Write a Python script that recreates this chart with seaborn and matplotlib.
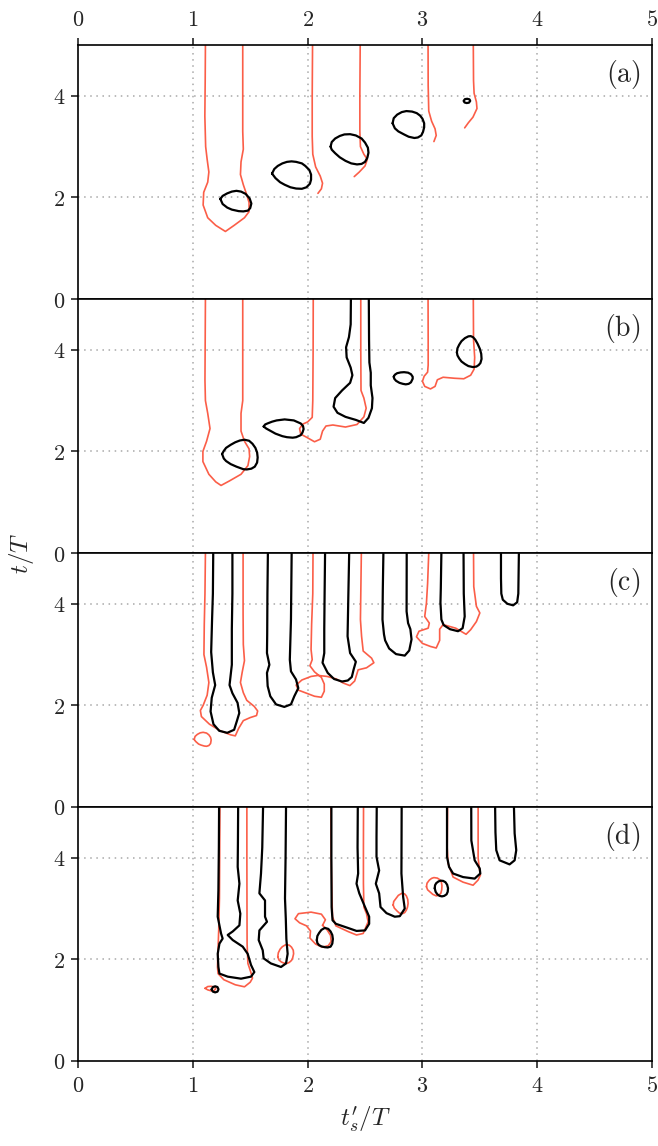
import matplotlib
matplotlib.use('Agg')
import matplotlib.pyplot as plt
from matplotlib.ticker import FuncFormatter
import seaborn as sns

# contour lines, (t'_s/T, t/T) pairs
RED = '#fb5e48'
BLACK = '#000000'

# ---- panel (a)
a_red1 = [(1.110, 5.0), (1.108, 4.3), (1.105, 3.6), (1.112, 3.0), (1.125, 2.75), (1.14, 2.5), (1.13, 2.3),
          (1.095, 2.1), (1.09, 1.85), (1.13, 1.6), (1.20, 1.45), (1.284, 1.33), (1.36, 1.45), (1.45, 1.6),
          (1.49, 1.72), (1.49, 1.9), (1.47, 2.05), (1.44, 2.25), (1.415, 2.45), (1.42, 2.7), (1.44, 2.95),
          (1.435, 3.3), (1.435, 4.0), (1.435, 5.0)]
a_red2 = [(2.043, 5.0), (2.04, 4.0), (2.04, 3.2), (2.045, 2.85), (2.07, 2.6), (2.11, 2.42), (2.13, 2.28),
          (2.12, 2.17), (2.09, 2.08)]
a_red3 = [(2.458, 5.0), (2.455, 4.0), (2.455, 3.3), (2.46, 3.0), (2.49, 2.85), (2.52, 2.75), (2.50, 2.62),
          (2.45, 2.5), (2.406, 2.41)]
a_red4 = [(3.049, 5.0), (3.05, 4.2), (3.055, 3.7), (3.08, 3.5), (3.11, 3.35), (3.12, 3.22), (3.10, 3.10)]
a_red5 = [(3.443, 5.0), (3.445, 4.3), (3.45, 4.05), (3.47, 3.88), (3.475, 3.75), (3.44, 3.58), (3.40, 3.47),
          (3.368, 3.37)]
a_blk1 = [(1.24, 1.97), (1.26, 2.03), (1.30, 2.08), (1.34, 2.115), (1.38, 2.13), (1.42, 2.115), (1.46, 2.07),
          (1.495, 1.98), (1.51, 1.88), (1.50, 1.79), (1.48, 1.74), (1.44, 1.725), (1.40, 1.73), (1.34, 1.76),
          (1.30, 1.80), (1.26, 1.87), (1.24, 1.97)]
a_blk2 = [(1.69, 2.47), (1.71, 2.56), (1.74, 2.62), (1.78, 2.67), (1.82, 2.70), (1.86, 2.71), (1.90, 2.70),
          (1.95, 2.67), (1.98, 2.62), (2.015, 2.54), (2.03, 2.45), (2.03, 2.35), (2.02, 2.27), (1.99, 2.20),
          (1.95, 2.17), (1.90, 2.175), (1.85, 2.20), (1.80, 2.25), (1.76, 2.30), (1.72, 2.38), (1.69, 2.47)]
a_blk3 = [(2.20, 3.0), (2.21, 3.09), (2.24, 3.16), (2.28, 3.21), (2.32, 3.24), (2.37, 3.245), (2.42, 3.22),
          (2.47, 3.16), (2.50, 3.08), (2.525, 2.98), (2.53, 2.88), (2.52, 2.78), (2.50, 2.70), (2.47, 2.66),
          (2.43, 2.65), (2.38, 2.67), (2.33, 2.72), (2.28, 2.79), (2.24, 2.87), (2.21, 2.94), (2.20, 3.0)]
a_blk4 = [(2.74, 3.46), (2.75, 3.56), (2.78, 3.63), (2.82, 3.68), (2.86, 3.70), (2.91, 3.69), (2.95, 3.66),
          (2.98, 3.61), (3.00, 3.55), (3.015, 3.46), (3.015, 3.38), (3.005, 3.29), (2.99, 3.22),
          (2.96, 3.18), (2.93, 3.17), (2.88, 3.195), (2.84, 3.24), (2.79, 3.30), (2.76, 3.36), (2.74, 3.46)]
a_blk5 = [(3.36, 3.90), (3.37, 3.935), (3.39, 3.942), (3.41, 3.93), (3.416, 3.90), (3.405, 3.865),
          (3.385, 3.858), (3.366, 3.87), (3.36, 3.90)]

# ---- panel (b)
b_red1 = [(1.110, 5.0), (1.108, 4.2), (1.106, 3.4), (1.11, 3.0), (1.13, 2.75), (1.15, 2.45), (1.12, 2.2),
          (1.088, 2.0), (1.088, 1.8), (1.14, 1.55), (1.20, 1.40), (1.246, 1.33), (1.32, 1.42), (1.42, 1.55),
          (1.48, 1.72), (1.495, 1.9), (1.49, 2.05), (1.45, 2.2), (1.42, 2.4), (1.42, 2.75), (1.435, 3.0),
          (1.435, 3.8), (1.435, 5.0)]
b_red2 = [(2.049, 5.0), (2.048, 4.0), (2.045, 3.0), (2.04, 2.67), (2.00, 2.58), (1.96, 2.54), (1.93, 2.45),
          (1.94, 2.34), (1.99, 2.28), (2.06, 2.19), (2.11, 2.24), (2.13, 2.40), (2.16, 2.50), (2.22, 2.52),
          (2.33, 2.48), (2.43, 2.53), (2.49, 2.68), (2.51, 2.85), (2.49, 3.05), (2.465, 3.2), (2.463, 4.0),
          (2.463, 5.0)]
b_red3 = [(3.049, 5.0), (3.05, 4.2), (3.05, 3.7), (3.045, 3.56), (3.015, 3.48), (3.0, 3.38), (3.02, 3.28),
          (3.07, 3.23), (3.11, 3.28), (3.13, 3.41), (3.18, 3.46), (3.28, 3.44), (3.36, 3.43), (3.42, 3.50),
          (3.45, 3.62), (3.455, 3.85), (3.445, 4.2), (3.443, 5.0)]
b_blk1 = [(1.255, 1.95), (1.27, 2.01), (1.29, 2.07), (1.33, 2.13), (1.37, 2.18), (1.41, 2.215), (1.45, 2.23),
          (1.49, 2.21), (1.52, 2.15), (1.545, 2.07), (1.56, 1.98), (1.565, 1.88), (1.56, 1.78), (1.54, 1.70),
          (1.51, 1.66), (1.47, 1.645), (1.44, 1.65), (1.38, 1.70), (1.33, 1.75), (1.29, 1.81), (1.27, 1.86),
          (1.255, 1.95)]
b_blk2 = [(1.617, 2.49), (1.63, 2.53), (1.65, 2.55), (1.69, 2.585), (1.73, 2.61), (1.80, 2.63), (1.88, 2.61),
          (1.94, 2.55), (1.96, 2.50), (1.965, 2.44), (1.955, 2.37), (1.94, 2.32), (1.90, 2.28), (1.87, 2.27),
          (1.82, 2.28), (1.78, 2.30), (1.72, 2.35), (1.68, 2.40), (1.64, 2.45), (1.617, 2.49)]
b_blk3 = [(2.377, 5.0), (2.375, 4.5), (2.36, 4.25), (2.335, 4.05), (2.34, 3.85), (2.375, 3.65), (2.39, 3.5),
          (2.37, 3.35), (2.30, 3.2), (2.24, 3.05), (2.226, 2.88), (2.26, 2.76), (2.33, 2.68), (2.42, 2.62),
          (2.49, 2.56), (2.53, 2.66), (2.56, 2.85), (2.565, 3.05), (2.55, 3.3), (2.55, 3.55), (2.538, 3.75),
          (2.535, 4.2), (2.533, 5.0)]
b_blk4 = [(2.75, 3.47), (2.76, 3.51), (2.78, 3.54), (2.81, 3.555), (2.84, 3.56), (2.875, 3.55), (2.90, 3.52),
          (2.915, 3.47), (2.915, 3.43), (2.90, 3.36), (2.88, 3.33), (2.855, 3.32), (2.83, 3.33), (2.80, 3.35),
          (2.77, 3.39), (2.755, 3.43), (2.75, 3.47)]
b_blk5 = [(3.30, 3.95), (3.305, 4.03), (3.32, 4.10), (3.34, 4.17), (3.37, 4.23), (3.40, 4.265), (3.42, 4.27),
          (3.44, 4.25), (3.46, 4.20), (3.48, 4.12), (3.50, 4.02), (3.512, 3.92), (3.515, 3.82),
          (3.505, 3.74), (3.49, 3.70), (3.47, 3.67), (3.44, 3.66), (3.40, 3.68), (3.37, 3.72), (3.34, 3.77),
          (3.32, 3.83), (3.305, 3.89), (3.30, 3.95)]

# ---- panel (c)
c_red1 = [(1.110, 5.0), (1.106, 4.2), (1.10, 3.6), (1.097, 3.0), (1.12, 2.75), (1.14, 2.45), (1.125, 2.2),
          (1.09, 2.0), (1.066, 1.9), (1.075, 1.78), (1.145, 1.63), (1.24, 1.50), (1.33, 1.42), (1.37, 1.40),
          (1.40, 1.55), (1.44, 1.70), (1.50, 1.76), (1.555, 1.80), (1.565, 1.89), (1.535, 1.98), (1.47, 2.10),
          (1.44, 2.25), (1.415, 2.45), (1.43, 2.65), (1.45, 2.88), (1.44, 3.2), (1.438, 3.8), (1.438, 5.0)]
c_red2 = [(1.012, 1.33), (1.02, 1.39), (1.04, 1.43), (1.065, 1.46), (1.09, 1.47), (1.12, 1.455), (1.14, 1.42),
          (1.155, 1.37), (1.16, 1.32), (1.155, 1.25), (1.14, 1.21), (1.12, 1.195), (1.10, 1.20), (1.07, 1.22),
          (1.05, 1.24), (1.025, 1.29), (1.012, 1.33)]
c_red3 = [(2.047, 5.0), (2.045, 4.2), (2.035, 3.6), (2.03, 3.1), (2.04, 2.9), (2.02, 2.78), (2.06, 2.66),
          (2.12, 2.55), (2.145, 2.42), (2.145, 2.28), (2.12, 2.16), (2.06, 2.18), (1.99, 2.24), (1.92, 2.30),
          (1.90, 2.40), (1.95, 2.50), (2.03, 2.57), (2.09, 2.59), (2.17, 2.57), (2.25, 2.52), (2.31, 2.44),
          (2.368, 2.39), (2.41, 2.48), (2.44, 2.70), (2.513, 2.74), (2.577, 2.84), (2.557, 2.93),
          (2.484, 3.07), (2.47, 3.36), (2.46, 3.69), (2.468, 5.0)]
c_red4 = [(3.055, 5.0), (3.045, 4.4), (3.035, 4.02), (3.02, 3.75), (3.06, 3.62), (3.05, 3.52), (2.97, 3.46),
          (2.948, 3.35), (3.0, 3.22), (3.07, 3.16), (3.12, 3.13), (3.15, 3.28), (3.15, 3.50), (3.18, 3.59),
          (3.29, 3.52), (3.38, 3.40), (3.42, 3.49), (3.47, 3.65), (3.50, 3.82), (3.47, 3.95), (3.447, 4.34),
          (3.445, 5.0)]
c_blk1 = [(1.178, 5.0), (1.175, 4.2), (1.168, 3.7), (1.16, 3.05), (1.175, 2.65), (1.195, 2.4), (1.165, 2.15),
          (1.155, 1.88), (1.18, 1.63), (1.23, 1.50), (1.30, 1.46), (1.36, 1.52), (1.385, 1.70), (1.405, 1.85),
          (1.39, 2.05), (1.345, 2.24), (1.32, 2.40), (1.34, 2.8), (1.34, 3.5), (1.345, 4.2), (1.345, 5.0)]
c_blk2 = [(1.654, 5.0), (1.65, 4.2), (1.648, 3.4), (1.646, 3.03), (1.667, 2.8), (1.646, 2.64), (1.652, 2.38),
          (1.675, 2.18), (1.725, 2.02), (1.797, 1.97), (1.855, 2.02), (1.884, 2.18), (1.919, 2.34),
          (1.899, 2.51), (1.855, 2.67), (1.845, 2.9), (1.855, 3.69), (1.861, 5.0)]
c_blk3 = [(2.152, 5.0), (2.148, 4.2), (2.145, 3.5), (2.145, 3.03), (2.13, 2.84), (2.175, 2.64), (2.23, 2.52),
          (2.30, 2.47), (2.35, 2.49), (2.385, 2.56), (2.40, 2.70), (2.42, 2.86), (2.37, 3.03), (2.348, 3.36),
          (2.355, 4.2), (2.362, 5.0)]
c_blk4 = [(2.66, 5.0), (2.655, 4.3), (2.652, 3.69), (2.665, 3.4), (2.675, 3.28), (2.71, 3.12), (2.77, 3.01),
          (2.846, 2.98), (2.885, 3.08), (2.905, 3.3), (2.895, 3.5), (2.875, 3.62), (2.862, 3.85), (2.863, 5.0)]
c_blk5 = [(3.165, 5.0), (3.16, 4.3), (3.157, 4.02), (3.165, 3.69), (3.185, 3.58), (3.24, 3.50), (3.31, 3.46),
          (3.35, 3.52), (3.368, 3.75), (3.36, 4.2), (3.358, 5.0)]
c_blk6 = [(3.684, 5.0), (3.684, 4.5), (3.687, 4.2), (3.70, 4.08), (3.74, 4.0), (3.79, 3.97), (3.825, 4.03),
          (3.835, 4.2), (3.84, 5.0)]

# ---- panel (d)
d_red1 = [(1.236, 5.0), (1.234, 4.0), (1.232, 3.2), (1.226, 2.6), (1.22, 2.2), (1.215, 1.85), (1.22, 1.72),
          (1.27, 1.60), (1.37, 1.50), (1.45, 1.46), (1.50, 1.55), (1.52, 1.63), (1.505, 1.75), (1.48, 1.92),
          (1.473, 2.3), (1.472, 3.0), (1.471, 4.0), (1.471, 5.0)]
d_red2 = [(1.107, 1.43), (1.13, 1.465), (1.16, 1.47), (1.19, 1.455), (1.20, 1.42), (1.185, 1.385),
          (1.16, 1.38), (1.13, 1.40), (1.107, 1.43)]
d_red3 = [(1.74, 2.05), (1.745, 2.13), (1.76, 2.20), (1.78, 2.25), (1.81, 2.29), (1.84, 2.28), (1.86, 2.24),
          (1.875, 2.18), (1.878, 2.11), (1.87, 2.03), (1.86, 1.98), (1.84, 1.94), (1.82, 1.92), (1.79, 1.93),
          (1.77, 1.95), (1.75, 1.99), (1.74, 2.05)]
d_red4 = [(2.13, 2.67), (2.17, 2.58), (2.20, 2.47), (2.205, 2.35), (2.18, 2.27), (2.13, 2.24), (2.07, 2.30),
          (2.02, 2.42), (2.025, 2.56), (1.99, 2.66), (1.93, 2.72), (1.89, 2.80), (1.92, 2.90), (2.03, 2.93),
          (2.12, 2.89), (2.155, 2.78), (2.13, 2.67)]
d_red5 = [(2.203, 5.0), (2.205, 4.0), (2.212, 3.2), (2.217, 2.84), (2.246, 2.66), (2.35, 2.55), (2.426, 2.48),
          (2.484, 2.51), (2.527, 2.74), (2.513, 2.90), (2.49, 3.03), (2.486, 3.5), (2.486, 4.2), (2.487, 5.0)]
d_red6 = [(2.745, 3.07), (2.75, 3.14), (2.77, 3.2), (2.79, 3.26), (2.82, 3.30), (2.845, 3.29), (2.86, 3.25),
          (2.872, 3.18), (2.875, 3.10), (2.87, 3.03), (2.86, 2.97), (2.845, 2.92), (2.826, 2.90),
          (2.80, 2.91), (2.78, 2.95), (2.755, 3.01), (2.745, 3.07)]
d_red7 = [(3.035, 3.43), (3.04, 3.50), (3.06, 3.56), (3.08, 3.595), (3.10, 3.61), (3.13, 3.60), (3.15, 3.57),
          (3.165, 3.52), (3.17, 3.45), (3.168, 3.37), (3.16, 3.30), (3.14, 3.26), (3.12, 3.25), (3.09, 3.28),
          (3.07, 3.32), (3.045, 3.37), (3.035, 3.43)]
d_red8 = [(3.219, 5.0), (3.216, 4.2), (3.223, 3.89), (3.267, 3.62), (3.354, 3.52), (3.441, 3.46),
          (3.484, 3.56), (3.505, 3.66), (3.495, 3.80), (3.485, 4.0), (3.485, 4.4), (3.485, 5.0)]
d_blk1 = [(1.229, 5.0), (1.227, 4.2), (1.223, 3.36), (1.217, 2.84), (1.246, 2.51), (1.26, 2.41), (1.232, 2.31),
          (1.217, 2.11), (1.223, 1.85), (1.232, 1.72), (1.304, 1.66), (1.42, 1.62), (1.507, 1.66),
          (1.536, 1.75), (1.507, 1.89), (1.478, 2.11), (1.435, 2.25), (1.348, 2.38), (1.304, 2.48),
          (1.348, 2.55), (1.406, 2.67), (1.414, 2.9), (1.391, 3.16), (1.406, 3.49), (1.391, 3.82),
          (1.393, 4.3), (1.395, 5.0)]
d_blk2 = [(1.164, 1.41), (1.175, 1.455), (1.195, 1.47), (1.215, 1.455), (1.224, 1.41), (1.215, 1.365),
          (1.195, 1.35), (1.175, 1.365), (1.164, 1.41)]
d_blk3 = [(1.612, 5.0), (1.605, 4.2), (1.594, 3.69), (1.58, 3.30), (1.629, 3.16), (1.629, 2.84), (1.646, 2.74),
          (1.58, 2.57), (1.574, 2.38), (1.609, 2.18), (1.617, 2.02), (1.68, 1.92), (1.768, 1.85),
          (1.812, 1.92), (1.826, 2.11), (1.815, 2.4), (1.81, 2.8), (1.803, 3.2), (1.808, 4.0), (1.812, 5.0)]
d_blk4 = [(2.08, 2.38), (2.085, 2.46), (2.10, 2.52), (2.12, 2.58), (2.15, 2.62), (2.18, 2.60), (2.20, 2.55),
          (2.215, 2.48), (2.22, 2.40), (2.215, 2.31), (2.20, 2.25), (2.175, 2.235), (2.15, 2.24),
          (2.12, 2.255), (2.10, 2.28), (2.085, 2.32), (2.08, 2.38)]
d_blk5 = [(2.207, 5.0), (2.207, 4.0), (2.209, 3.03), (2.217, 2.77), (2.246, 2.70), (2.35, 2.62), (2.426, 2.56),
          (2.50, 2.57), (2.536, 2.70), (2.536, 2.84), (2.50, 3.03), (2.45, 3.30), (2.426, 3.49), (2.44, 3.69),
          (2.435, 4.2), (2.437, 5.0)]
d_blk6 = [(2.602, 5.0), (2.60, 4.4), (2.60, 4.02), (2.623, 3.75), (2.594, 3.49), (2.623, 3.30), (2.635, 3.03),
          (2.687, 2.91), (2.759, 2.84), (2.803, 2.85), (2.846, 3.0), (2.832, 3.23), (2.817, 3.69),
          (2.819, 5.0)]
d_blk7 = [(3.107, 3.40), (3.11, 3.46), (3.12, 3.50), (3.14, 3.535), (3.16, 3.55), (3.18, 3.545), (3.20, 3.52),
          (3.215, 3.47), (3.223, 3.40), (3.22, 3.33), (3.21, 3.28), (3.19, 3.25), (3.17, 3.24), (3.15, 3.25),
          (3.13, 3.28), (3.115, 3.33), (3.107, 3.40)]
d_blk8 = [(3.214, 5.0), (3.214, 4.02), (3.232, 3.82), (3.267, 3.69), (3.354, 3.62), (3.455, 3.59),
          (3.504, 3.69), (3.499, 3.79), (3.455, 3.95), (3.426, 4.34), (3.425, 5.0)]
d_blk9 = [(3.633, 5.0), (3.636, 4.5), (3.643, 4.15), (3.672, 3.95), (3.759, 3.87), (3.803, 3.95),
          (3.817, 4.15), (3.803, 4.48), (3.797, 5.0)]

panel_labels = ['(a)', '(b)', '(c)', '(d)']
red_curves = [
    [a_red1, a_red2, a_red3, a_red4, a_red5],
    [b_red1, b_red2, b_red3],
    [c_red1, c_red2, c_red3, c_red4],
    [d_red1, d_red2, d_red3, d_red4, d_red5, d_red6, d_red7, d_red8],
]
black_curves = [
    [a_blk1, a_blk2, a_blk3, a_blk4, a_blk5],
    [b_blk1, b_blk2, b_blk3, b_blk4, b_blk5],
    [c_blk1, c_blk2, c_blk3, c_blk4, c_blk5, c_blk6],
    [d_blk1, d_blk2, d_blk3, d_blk4, d_blk5, d_blk6, d_blk7, d_blk8, d_blk9],
]
x_ticks = [0, 1, 2, 3, 4, 5]
y_ticks = [0, 2, 4]

sns.set_theme(style='ticks')
plt.rcParams['mathtext.fontset'] = 'cm'
plt.rcParams['font.family'] = ['DejaVu Serif']

fig, axes = plt.subplots(4, 1, figsize=(6.58, 11.46), dpi=100, sharex=True)
fig.subplots_adjust(left=0.1185, right=0.991, top=0.9607, bottom=0.0742, hspace=0)

math_fmt = FuncFormatter(lambda v, pos: f'${v:g}$')


def draw(ax, pts, color, lw):
    xs = [p[0] for p in pts]
    ys = [p[1] for p in pts]
    sns.lineplot(x=xs, y=ys, sort=False, estimator=None, color=color, linewidth=lw, ax=ax,
                 solid_joinstyle='round', solid_capstyle='round')


for i, ax in enumerate(axes):
    ax.set_xlim(0, 5)
    ax.set_ylim(0, 5)
    ax.set_xticks(x_ticks)
    ax.set_yticks(y_ticks)
    ax.xaxis.set_major_formatter(math_fmt)
    ax.yaxis.set_major_formatter(math_fmt)
    for gx in x_ticks[1:-1]:
        ax.axvline(gx, color='#a8a8a8', lw=1.1, ls=(0, (1, 3)), zorder=0)
    for gy in y_ticks[1:]:
        ax.axhline(gy, color='#a8a8a8', lw=1.1, ls=(0, (1, 3)), zorder=0)

    for pts in red_curves[i]:
        draw(ax, pts, RED, 1.2)
    for pts in black_curves[i]:
        draw(ax, pts, BLACK, 1.6)

    for sp in ax.spines.values():
        sp.set_linewidth(1.2)
        sp.set_color('black')
    ax.tick_params(axis='y', direction='out', length=5, width=1.2, labelsize=16, pad=4)
    ax.tick_params(axis='x', direction='out', length=5, width=1.2, labelsize=16, pad=5,
                   top=(i == 0), labeltop=(i == 0), bottom=(i == 3), labelbottom=(i == 3))
    ax.set_xlabel('')
    ax.set_ylabel('')
    ax.text(0.98, 0.885, r'$\mathrm{' + panel_labels[i] + '}$', transform=ax.transAxes,
            ha='right', va='center', fontsize=20)

axes[-1].set_xlabel(r"$t_s^{\prime}/T$", fontsize=18, labelpad=6)
fig.text(0.032, 0.5175, r'$t/T$', rotation=90, ha='center', va='center', fontsize=18)

fig.savefig('out.png', dpi=100)
